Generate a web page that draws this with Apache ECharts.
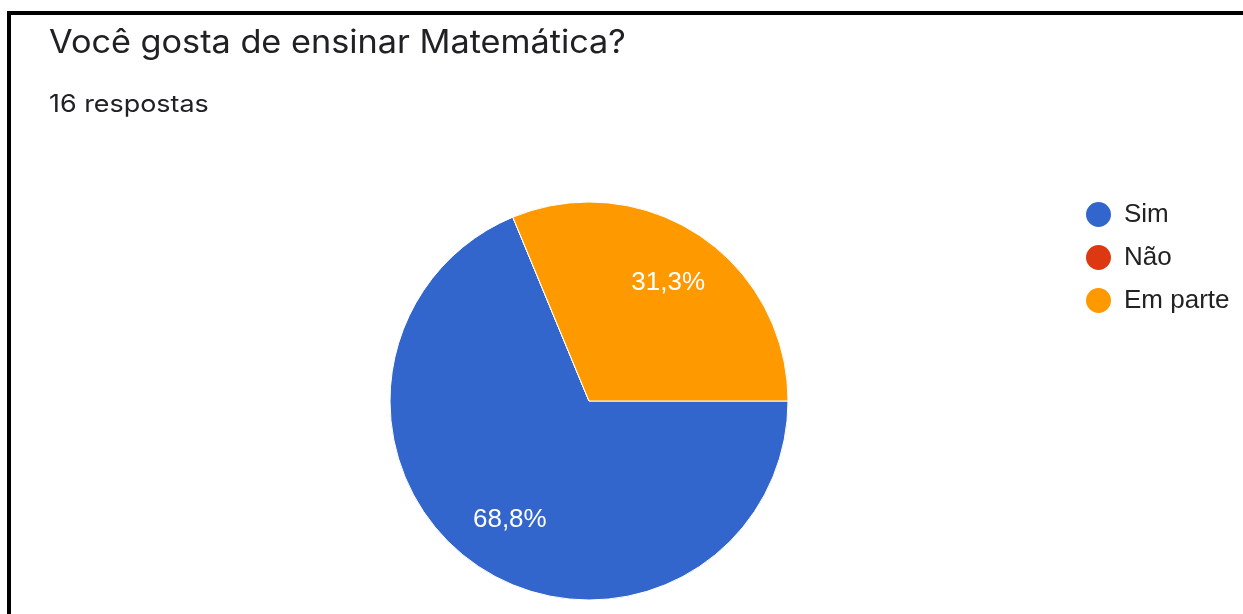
<!DOCTYPE html>
<html>
<head>
<meta charset="utf-8">
<script src="https://cdn.jsdelivr.net/npm/echarts@6/dist/echarts.min.js"></script>
<style>
html,body{margin:0;padding:0;background:#fff;}
#chart{width:1243px;height:614px;}
</style>
</head>
<body>
<div id="chart"></div>
<script>
var titleText = 'Você gosta de ensinar Matemática?';
var subtitleText = '16 respostas';
var categories = ['Sim', 'Não', 'Em parte'];
var counts = [11, 0, 5];
var colors = ['#3366cc', '#dc3912', '#ff9900'];

var data = categories.map(function (c, i) {
  return { name: c, value: counts[i], itemStyle: { color: colors[i] } };
});
var labelData = categories.map(function (c, i) {
  return { name: c, value: counts[i] };
});

var chart = echarts.init(document.getElementById('chart'), null, { renderer: 'canvas' });
chart.setOption({
  animation: false,
  backgroundColor: '#ffffff',
  legend: {
    orient: 'vertical',
    left: 1084, top: 200, padding: 0,
    icon: 'circle',
    itemWidth: 27, itemHeight: 27, itemGap: 14,
    data: categories,
    textStyle: { fontFamily: 'Liberation Sans', fontSize: 26, lineHeight: 27, color: '#222222', padding: [0, 0, 0, 7] },
    selectedMode: false
  },
  graphic: [
    { type: 'rect', shape: { x: 7, y: 11, width: 4, height: 620 }, style: { fill: '#000' }, silent: true },
    { type: 'rect', shape: { x: 7, y: 11, width: 1250, height: 4 }, style: { fill: '#000' }, silent: true },
    { type: 'text', x: 49, y: 43, scaleX: 1.07, silent: true,
      style: { text: titleText, fontFamily: 'Inter', fontSize: 32, fill: '#202124', verticalAlign: 'middle', align: 'left' } },
    { type: 'text', x: 49, y: 105, scaleX: 1.12, silent: true,
      style: { text: subtitleText, fontFamily: 'Inter', fontSize: 24, fill: '#202124', verticalAlign: 'middle', align: 'left' } }
  ],
  series: [
    {
      type: 'pie',
      center: [589, 401],
      radius: [0, 199],
      startAngle: 0,
      clockwise: true,
      data: data,
      label: { show: false },
      labelLine: { show: false },
      itemStyle: { borderColor: '#ffffff', borderWidth: 1 },
      silent: true
    },
    {
      type: 'pie',
      center: [589, 401],
      radius: [80, 199],
      startAngle: 0,
      clockwise: true,
      data: labelData,
      itemStyle: { color: 'rgba(0,0,0,0)', borderWidth: 0 },
      label: {
        show: true,
        position: 'inside',
        fontFamily: 'Liberation Sans',
        fontSize: 26,
        color: '#ffffff',
        formatter: function (p) {
          if (!p.value) return '';
          return p.percent.toFixed(1).replace('.', ',') + '%';
        }
      },
      labelLine: { show: false },
      silent: true
    }
  ]
});
</script>
</body>
</html>
